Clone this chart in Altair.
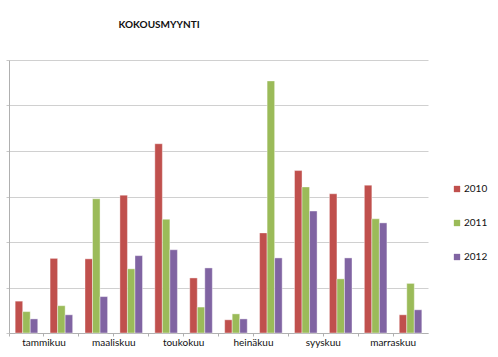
import altair as alt
import pandas as pd

months = ["tammikuu", "helmikuu", "maaliskuu", "huhtikuu", "toukokuu", "kesäkuu",
          "heinäkuu", "elokuu", "syyskuu", "lokakuu", "marraskuu", "joulukuu"]
shown = ["tammikuu", "maaliskuu", "toukokuu", "heinäkuu", "syyskuu", "marraskuu"]
years = ["2010", "2011", "2012"]
v2010 = [0.70, 1.64, 1.63, 3.03, 4.16, 1.21, 0.29, 2.20, 3.57, 3.06, 3.25, 0.40]
v2011 = [0.47, 0.60, 2.95, 1.41, 2.50, 0.57, 0.42, 5.54, 3.21, 1.19, 2.51, 1.09]
v2012 = [0.31, 0.40, 0.80, 1.70, 1.83, 1.43, 0.31, 1.65, 2.68, 1.65, 2.42, 0.51]
colors = ["#C0504D", "#9BBB59", "#8064A2"]

rows = []
for y, vals in zip(years, [v2010, v2011, v2012]):
    for m, v in zip(months, vals):
        rows.append({"month": m, "year": y, "value": v})
df = pd.DataFrame(rows)

FONT = "Lato"
label_list = "[" + ",".join("'" + s + "'" for s in shown) + "]"

chart = alt.Chart(df).mark_bar(stroke="white", strokeWidth=0.4).encode(
    x=alt.X("month:N", sort=months, title=None,
            scale=alt.Scale(paddingInner=0, paddingOuter=0),
            axis=alt.Axis(bandPosition=0, labelOffset=17.5, labelAngle=0,
                          labelExpr="indexof(" + label_list + ", datum.value) >= 0 ? datum.value : ''",
                          labelOverlap=False, labelFont=FONT, labelFontSize=10,
                          labelColor="#111", labelPadding=1, tickSize=3,
                          tickColor="#b0b0b0", domainColor="#b0b0b0")),
    xOffset=alt.XOffset("year:N", sort=years,
                        scale=alt.Scale(paddingInner=0, paddingOuter=0.82)),
    y=alt.Y("value:Q", title=None,
            scale=alt.Scale(domain=[0, 6], nice=False),
            axis=alt.Axis(values=[0, 1, 2, 3, 4, 5, 6], labels=False, tickSize=3,
                          tickColor="#c8c8c8", gridColor="#d0d0d0",
                          domainColor="#b0b0b0")),
    color=alt.Color("year:N", sort=years,
                    scale=alt.Scale(domain=years, range=colors),
                    legend=alt.Legend(title=None, orient="none", legendX=443, legendY=124,
                                      symbolType="square", symbolSize=40,
                                      symbolStrokeWidth=0, labelFont=FONT,
                                      labelFontSize=10, labelColor="#111",
                                      rowPadding=24, labelOffset=2)),
).properties(
    width=419, height=273,
    title=alt.TitleParams("KOKOUSMYYNTI", anchor="start", dx=113, offset=30,
                          font=FONT, fontSize=10, fontWeight="bold", color="#111"),
    autosize=alt.AutoSizeParams(type="none"),
    padding={"left": 9, "top": 60, "right": 70, "bottom": 24},
).configure_view(stroke=None)

chart.save("out.html", embed_options={"renderer": "svg", "actions": False})
